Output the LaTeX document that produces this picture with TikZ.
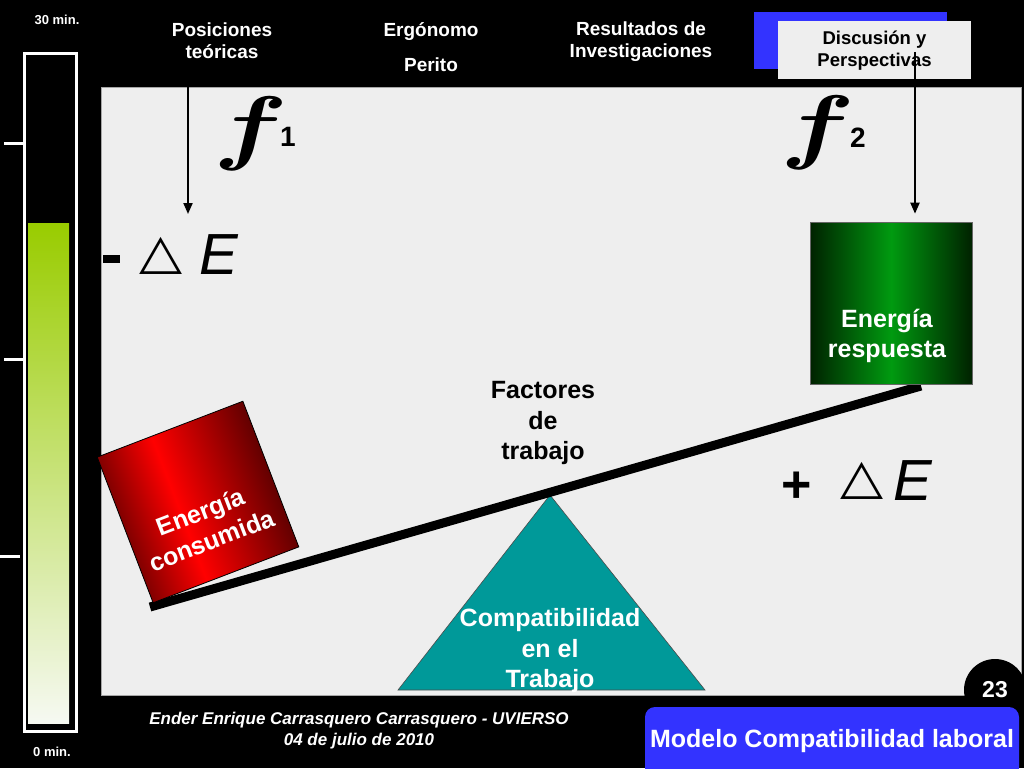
\documentclass[tikz,border=0pt]{standalone}
\usepackage{graphicx}
\usepackage{fontspec}
\setmainfont{Liberation Sans}
\newfontfamily\dejavu{DejaVu Sans}
\usetikzlibrary{arrows.meta}
\definecolor{panelgray}{HTML}{EEEEEE}
\definecolor{slideblue}{HTML}{3333FF}
\definecolor{tealc}{HTML}{009999}
\definecolor{gdark}{HTML}{002200}
\definecolor{gmid}{HTML}{009A10}
\definecolor{rdark}{HTML}{3A0000}
\definecolor{rmid}{HTML}{FF0000}
\definecolor{bartop}{HTML}{99CC00}
\definecolor{barbot}{HTML}{F6F9F2}
\pgfdeclarehorizontalshading{greenbox}{100bp}{color(0bp)=(gdark); color(25bp)=(gdark); color(50bp)=(gmid); color(75bp)=(gdark); color(100bp)=(gdark)}
\pgfdeclarehorizontalshading{redbox}{100bp}{color(0bp)=(black); color(22bp)=(rdark); color(45bp)=(rmid); color(76bp)=(rdark); color(100bp)=(black)}
\pgfdeclareverticalshading{barshade}{100bp}{color(0bp)=(barbot); color(25bp)=(barbot); color(75bp)=(bartop); color(100bp)=(bartop)}
\begin{document}
\begin{tikzpicture}[x=1pt,y=-1pt,
  toplbl/.style={text=white, font=\bfseries\fontsize{19}{22}\selectfont, align=center, inner sep=0pt},
  minlbl/.style={text=white, font=\bfseries\fontsize{13}{15}\selectfont, inner sep=0pt},
  boxtxt/.style={font=\bfseries\fontsize{25}{30.5}\selectfont, align=center, inner sep=0pt},
  arr/.style={line width=2pt, -{Triangle[length=11pt,width=9pt]}},
  fsymb/.style={inner sep=0pt},
  fsub/.style={font=\bfseries\fontsize{28}{28}\selectfont, inner sep=0pt},
  tri/.style={font=\dejavu\fontsize{50}{50}\selectfont, inner sep=0pt, xscale=1.12, yscale=0.97},
  bigE/.style={font=\itshape\fontsize{58}{58}\selectfont, inner sep=0pt},
  sign/.style={font=\bfseries\fontsize{52}{52}\selectfont, inner sep=0pt}
]
\useasboundingbox (0,0) rectangle (1024,768);
\fill[black] (0,0) rectangle (1024,768);
% content panel
\fill[panelgray] (101,87) rectangle (1021,695);
\draw[gray!70, line width=0.8pt] (101,87) rectangle (1021,695);

% time bar
\path[shading=barshade] (28,223) rectangle (69,723);
\draw[white, line width=3pt] (24.5,53.5) rectangle (76,731);
\draw[white, line width=3pt] (4,143) -- (23,143);
\draw[white, line width=3pt] (4,359) -- (23,359);
\draw[white, line width=3pt] (0,556) -- (20,556);
\node[minlbl] (t30) at (57,20) {30 min.};
\node[minlbl] (t0) at (52,752) {0 min.};

% top labels
\node[toplbl] (pos) at (222,41) {Posiciones\\teóricas};
\node[toplbl] (erg) at (431,47) {Ergónomo\\[13pt]Perito};
\node[toplbl] (res) at (641,42) {Resultados de\\Investigaciones};
\fill[slideblue] (754,12) rectangle (947,69);
\node[fill=panelgray, minimum width=193, minimum height=58, inner sep=0pt] (disc) at (874.5,50) {};
\node[font=\bfseries\fontsize{18.5}{22}\selectfont, align=center, inner sep=0pt] (disctxt) at (874.5,51) {Discusión y\\Perspectivas};

% f symbols
\node[fsymb] (f1) at (251,134) {\scalebox{11}[8.3]{\boldmath$f$}};
\node[fsub] (f1s) at (288,137) {1};
\node[fsymb] (f2) at (818,133) {\scalebox{11}[8.3]{\boldmath$f$}};
\node[fsub] (f2s) at (858,138) {2};

% delta E
\fill[black] (103,255) rectangle (120,263);
\node[tri] (tri1) at (161,256) {△};
\node[bigE] (E1) at (219,255) {E};
\node[sign] (plus) at (797,487) {+};
\node[tri] (tri2) at (862,481) {△};
\node[bigE] (E2) at (913,481) {E};

% fulcrum
\fill[tealc, draw=black!70, line width=0.6pt] (550,495) -- (705,690) -- (398,690) -- cycle;
\node[boxtxt, text=white] (comp) at (550,651) {Compatibilidad\\en el\\Trabajo};

% beam
\coordinate (beamL) at (150,607);
\coordinate (beamR) at (921,386);
\draw[line width=9pt] (beamL) -- (beamR);

% energy boxes
\node[minimum width=162, minimum height=162, inner sep=0pt, shading=greenbox, draw=black!60, line width=0.6pt] (resp) at (891,303) {};
\node[boxtxt, text=white] (resptxt) at (887,336) {Energía\\respuesta};
\node[minimum size=156, inner sep=0pt, rotate=21, shading=redbox, shading angle=21, draw=black, line width=0.8pt] (cons) at (198,502) {};
\node[boxtxt, text=white, rotate=21] (constxt) at (206,526) {Energía\\consumida};

\node[boxtxt] (fact) at (543,423) {Factores\\de\\trabajo};

% arrows
\coordinate (a1s) at (188,66);
\coordinate (a1e) at (188,214);
\draw[arr] (a1s) -- (a1e);
\coordinate (a2s) at (915,52);
\draw[arr, shorten >=8pt] (a2s) -- (a2s |- resp.north);

% footer
\node[circle, fill=black, minimum size=62, inner sep=0pt, text=white, font=\bfseries\fontsize{23}{23}\selectfont] (badge) at (995,690) {23};
\fill[slideblue, rounded corners=10pt] (645,707) rectangle (1019,790);
\node[text=white, font=\bfseries\fontsize{25}{25}\selectfont, inner sep=0pt] (title) at (832,741) {Modelo Compatibilidad laboral};
\node[text=white, font=\bfseries\itshape\fontsize{17}{21}\selectfont, align=center, inner sep=0pt] (author) at (359,731) {Ender Enrique Carrasquero Carrasquero - UVIERSO\\04 de julio de 2010};
\end{tikzpicture}
\end{document}
